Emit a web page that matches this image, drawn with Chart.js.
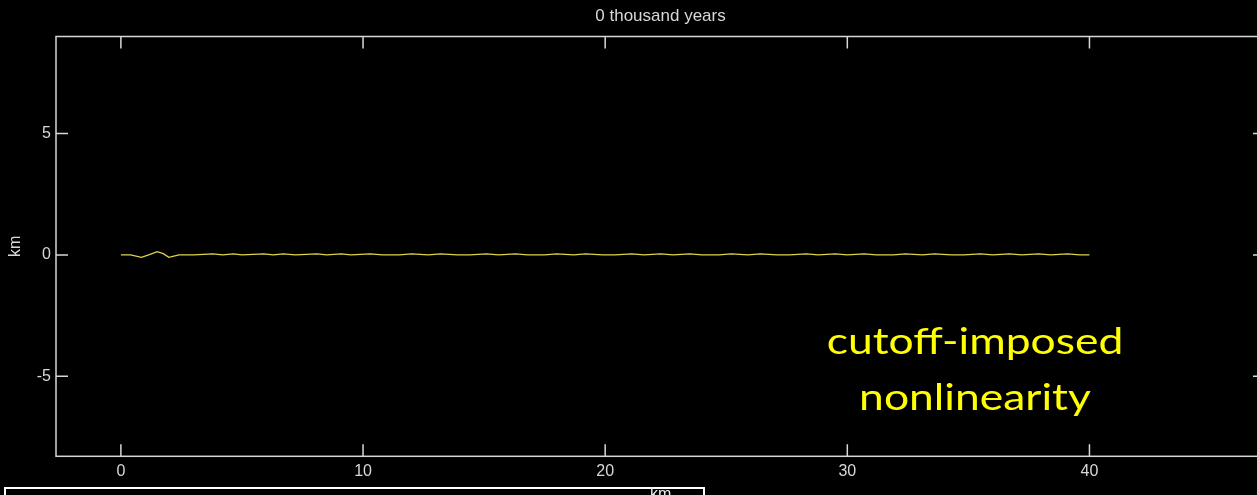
<!DOCTYPE html>
<html lang="en">

<head>
    <meta charset="UTF-8">
    <title>0 thousand years</title>
    <style>
        html, body { margin: 0; padding: 0; background: #000; overflow: hidden; }
        #frame { position: relative; width: 1257px; height: 495px; overflow: hidden; background: #000; }
        #plot { position: absolute; left: 0; top: 0; width: 1275px; height: 495px; }
        #note {
            position: absolute; left: 800px; top: 312px; width: 350px;
            text-align: center; color: #ffff00;
            font-family: Lato, "Open Sans", sans-serif; font-size: 37px; line-height: 56px;
            transform: scaleX(1.2); transform-origin: 175px 0;
        }
        #nextAxes {
            position: absolute; left: 4px; top: 487px; width: 697px; height: 30px;
            border: 2px solid #fff; background: #000;
        }
        #nextLabel {
            position: absolute; left: 650px; top: 485px; color: #e8e8e8;
            font-family: "Liberation Sans", Arial, sans-serif; font-size: 16px;
        }
    </style>
</head>

<body>
    <div id="frame">
        <div id="plot"><canvas id="myChart"></canvas></div>
        <div id="note">cutoff-imposed<br>nonlinearity</div>
        <div id="nextAxes"></div>
        <div id="nextLabel">km</div>
    </div>

    <script src="https://cdn.jsdelivr.net/npm/chart.js"></script>

    <script>
        // profile at t = 0 (distance along section, elevation), both km
        var distKm = [0, 0.4, 0.85, 1.15, 1.5, 1.75, 1.98, 2.4, 3.0, 3.8, 4.2, 4.65, 5.0, 5.9, 6.3, 6.7, 7.2,
            8.1, 8.5, 9.1, 9.5, 10.3, 10.8, 11.5, 12.0, 12.7, 13.2, 13.9, 14.4, 15.1, 15.6, 16.3, 16.8,
            17.5, 18.0, 18.7, 19.2, 19.9, 20.4, 21.1, 21.6, 22.3, 22.8, 23.5, 24.0, 24.7, 25.2, 25.9,
            26.4, 27.1, 27.6, 28.3, 28.8, 29.5, 30.0, 30.7, 31.2, 31.9, 32.4, 33.1, 33.6, 34.3, 34.8,
            35.5, 36.0, 36.7, 37.2, 37.9, 38.4, 39.1, 39.6, 40.0];
        var elevKm = [0, 0, -0.1, 0, 0.13, 0.05, -0.1, 0, 0, 0.04, 0, 0.04, 0, 0.04, 0, 0.04, 0,
            0.04, 0, 0.04, 0, 0.04, 0, 0, 0.04, 0, 0.04, 0, 0, 0.04, 0, 0.04, 0,
            0, 0.04, 0, 0.04, 0, 0, 0.04, 0, 0.04, 0, 0.04, 0, 0, 0.04, 0,
            0.04, 0, 0, 0.04, 0, 0.04, 0, 0.04, 0, 0, 0.04, 0, 0.04, 0, 0,
            0.04, 0, 0.04, 0, 0.04, 0, 0.04, 0, 0];

        var xTicks = [0, 10, 20, 30, 40];
        var yTicks = [-5, 0, 5];
        var titleText = "0 thousand years";
        var yTitle = "km";

        var AXIS = "#d8d8d8";
        var FONT = "'Liberation Sans', Arial, sans-serif";
        var TICK_LEN = 12;

        var points = [];
        distKm.forEach((d, i) => {
            points.push({x: d, y: elevKm[i]});
        });

        // box, inward tick marks on all four sides and the title above the box
        var boxPlugin = {
            id: "box",
            afterDraw(chart) {
                var ctx = chart.ctx;
                var a = chart.chartArea;
                var xs = chart.scales.x;
                var ys = chart.scales.y;
                ctx.save();
                ctx.strokeStyle = AXIS;
                ctx.lineWidth = 1.5;
                ctx.strokeRect(a.left, a.top, a.right - a.left, a.bottom - a.top);
                ctx.beginPath();
                xTicks.forEach(v => {
                    var px = xs.getPixelForValue(v);
                    ctx.moveTo(px, a.bottom); ctx.lineTo(px, a.bottom - TICK_LEN);
                    ctx.moveTo(px, a.top); ctx.lineTo(px, a.top + TICK_LEN);
                });
                yTicks.forEach(v => {
                    var py = ys.getPixelForValue(v);
                    ctx.moveTo(a.left, py); ctx.lineTo(a.left + TICK_LEN, py);
                    ctx.moveTo(a.right, py); ctx.lineTo(a.right - TICK_LEN, py);
                });
                ctx.stroke();
                ctx.fillStyle = AXIS;
                ctx.font = "17px " + FONT;
                ctx.textAlign = "center";
                ctx.textBaseline = "middle";
                ctx.fillText(titleText, (a.left + a.right) / 2, 16);
                ctx.restore();
            }
        };

        var chart = new Chart("myChart", {
            type: "line",
            data: {
                datasets: [{
                    label: "profile",
                    data: points,
                    borderColor: "#dcd44a",
                    borderWidth: 1.3,
                    pointRadius: 0,
                    tension: 0
                }]
            },
            options: {
                responsive: true,
                maintainAspectRatio: false,
                animation: false,
                layout: { padding: { top: 36.5, right: 10, bottom: 0, left: 0 } },
                plugins: {
                    legend: { display: false },
                    tooltip: { enabled: false }
                },
                scales: {
                    x: {
                        type: "linear",
                        min: -2.68,
                        max: 47.25,
                        afterBuildTicks: s => { s.ticks = xTicks.map(v => ({value: v})); },
                        afterFit: s => { s.height = 38.7; },
                        grid: { display: false, drawTicks: false },
                        border: { display: false },
                        ticks: {
                            color: AXIS, padding: 6,
                            font: { family: FONT, size: 16 }
                        }
                    },
                    y: {
                        min: -8.3,
                        max: 9,
                        afterBuildTicks: s => { s.ticks = yTicks.map(v => ({value: v})); },
                        afterFit: s => { s.width = 56; },
                        grid: { display: false, drawTicks: false },
                        border: { display: false },
                        title: {
                            display: true, text: yTitle, color: AXIS,
                            padding: { top: 6, bottom: 0 },
                            font: { family: FONT, size: 16 }
                        },
                        ticks: {
                            color: AXIS, padding: 5,
                            font: { family: FONT, size: 16 }
                        }
                    }
                }
            },
            plugins: [boxPlugin]
        });
    </script>
</body>

</html>
